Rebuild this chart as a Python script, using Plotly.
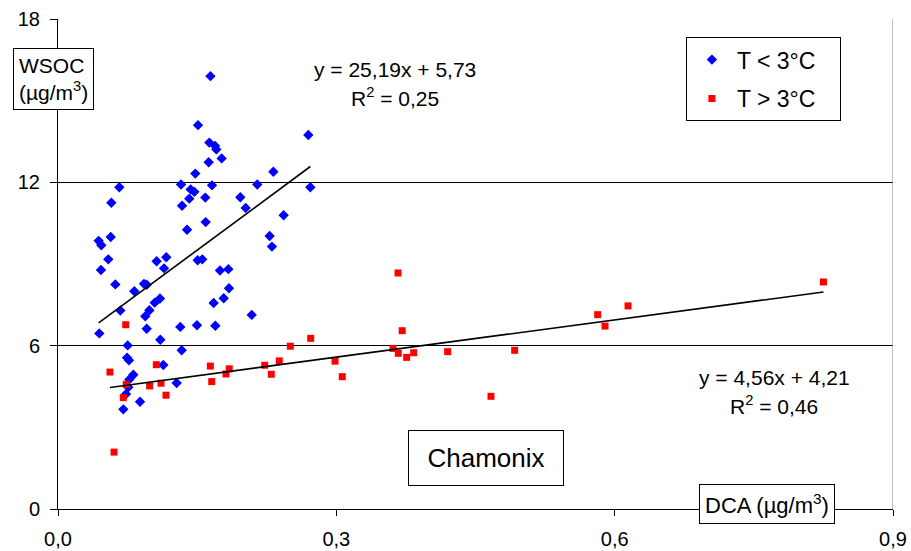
import numpy as np
import plotly.graph_objects as go

# DCA vs WSOC, T < 3°C (blue)
cold_dca = [0.1643, 0.1509, 0.2698, 0.1631, 0.1692, 0.1707, 0.1764, 0.1624, 0.2321, 0.148,
            0.0661, 0.1326, 0.166, 0.2148, 0.272, 0.143, 0.147, 0.1415, 0.1588, 0.1965,
            0.0575, 0.1337, 0.2023, 0.2432, 0.1592, 0.1391, 0.0568, 0.2281, 0.0438, 0.0467,
            0.2306, 0.0542, 0.0463, 0.1063, 0.1167, 0.1143, 0.1505, 0.1555, 0.1746, 0.1836,
            0.0618, 0.0927, 0.0956, 0.0823, 0.1843, 0.1099, 0.1042, 0.1786, 0.1678, 0.0672,
            0.0985, 0.0941, 0.2088, 0.0956, 0.1318, 0.1498, 0.1696, 0.0445, 0.1103, 0.0751,
            0.1333, 0.0744, 0.0765, 0.1135, 0.0812, 0.0769, 0.0758, 0.1279, 0.0733, 0.0884,
            0.0704]
cold_wsoc = [15.9, 14.1, 13.74, 13.46, 13.34, 13.21, 12.88, 12.74, 12.39, 12.32,
             11.82, 11.92, 11.89, 11.92, 11.82, 11.74, 11.65, 11.4, 11.44, 11.45,
             11.25, 11.14, 11.06, 10.79, 10.54, 10.26, 9.99, 10.03, 9.85, 9.69,
             9.64, 9.17, 8.78, 9.1, 9.25, 8.84, 9.14, 9.17, 8.76, 8.81,
             8.25, 8.27, 8.24, 8.0, 8.11, 7.73, 7.58, 7.74, 7.57, 7.29,
             7.3, 7.08, 7.13, 6.62, 6.69, 6.75, 6.73, 6.45, 6.22, 6.01,
             5.83, 5.56, 5.46, 5.29, 4.93, 4.76, 4.47, 4.63, 4.22, 3.94,
             3.66]

# T > 3°C (red)
warm_dca = [0.056, 0.0604, 0.0704, 0.073, 0.0736, 0.0988, 0.106, 0.111, 0.1164, 0.1642,
            0.1657, 0.1811, 0.1846, 0.2228, 0.2299, 0.2385, 0.2504, 0.2724, 0.2986, 0.3064,
            0.3611, 0.3665, 0.3668, 0.371, 0.3758, 0.3834, 0.42, 0.4667, 0.4922, 0.5817,
            0.5896, 0.6144, 0.825]
warm_wsoc = [5.03, 2.09, 4.09, 6.77, 4.58, 4.52, 5.3, 4.62, 4.18, 5.25,
             4.68, 4.96, 5.15, 5.28, 4.95, 5.44, 5.98, 6.27, 5.43, 4.86,
             5.9, 8.67, 5.72, 6.55, 5.57, 5.74, 5.78, 4.14, 5.83, 7.14,
             6.72, 7.46, 8.34]

# linear fits as printed on the chart
cold_fit = (25.19, 5.73)
warm_fit = (4.56, 4.21)

x_ticks = [0, 0.3, 0.6, 0.9]
x_labels = ["0,0", "0,3", "0,6", "0,9"]
y_ticks = [0, 6, 12, 18]

FONT = "Liberation Sans, Arial, sans-serif"
NB = "\u00a0"

fig = go.Figure()

fig.add_trace(go.Scatter(x=cold_dca, y=cold_wsoc, mode="markers", name="T < 3°C" + NB * 3,
                         legendgroup="a",
                         marker=dict(symbol="diamond", size=8, color="#0000ff")))
fig.add_trace(go.Scatter(x=warm_dca, y=warm_wsoc, mode="markers", name="T > 3°C" + NB * 3,
                         legendgroup="b",
                         marker=dict(symbol="square", size=7, color="#ff0000")))

for xs, (a, b) in [(cold_dca, cold_fit), (warm_dca, warm_fit)]:
    fx = np.array([min(xs), max(xs)])
    fig.add_trace(go.Scatter(x=fx, y=a * fx + b, mode="lines", showlegend=False,
                             line=dict(color="black", width=1.6)))

# gray right border
fig.add_shape(type="line", x0=0.9, x1=0.9, y0=0, y1=18, xref="x", yref="y",
              line=dict(color="#808080", width=1))

def note(text, x, y, size=21, **kw):
    fig.add_annotation(text=text, x=x, y=y, xref="paper", yref="paper", showarrow=False,
                       xanchor="center", yanchor="middle",
                       font=dict(size=size, color="black", family=FONT), **kw)

note("y = 25,19x + 5,73", 0.4036, 0.897)
note("R<sup>2</sup> = 0,25", 0.4036, 0.84)
note("y = 4,56x + 4,21", 0.8575, 0.269)
note("R<sup>2</sup> = 0,46", 0.8575, 0.212)

note("WSOC<br>(µg/m<sup>3</sup>)", -0.005, 0.878, size=21, align="left",
     bgcolor="white", bordercolor="black", borderwidth=1, borderpad=5)
note("DCA (µg/m<sup>3</sup>)", 0.8497, 0.0112, size=22,
     bgcolor="white", bordercolor="black", borderwidth=1, borderpad=5)
note("Chamonix", 0.5126, 0.104, size=26, width=136, height=36,
     bgcolor="white", bordercolor="black", borderwidth=1, borderpad=9)

fig.update_layout(
    width=911, height=551,
    margin=dict(l=58, r=18, t=19, b=42, autoexpand=False),
    paper_bgcolor="white", plot_bgcolor="white",
    font=dict(family=FONT, size=20, color="black"),
    showlegend=True,
    legend=dict(x=0.752, y=0.963, xanchor="left", yanchor="top",
                bgcolor="white", bordercolor="black", borderwidth=1,
                font=dict(size=23), tracegroupgap=6, itemwidth=40),
    xaxis=dict(range=[0, 0.9], tickvals=x_ticks, ticktext=x_labels, automargin=False,
               showgrid=False, zeroline=False, showline=True, linecolor="black",
               ticks="outside", ticklen=6, tickcolor="black", ticklabelstandoff=6),
    yaxis=dict(range=[0, 18], tickvals=y_ticks, showgrid=True, gridcolor="black",
               gridwidth=1, zeroline=False, showline=True, linecolor="black", automargin=False,
               ticks="outside", ticklen=7, tickcolor="black", ticklabelstandoff=6),
)

# drop the default body margin so the figure fills the window exactly
fig.write_html("out.html", config={"displayModeBar": False},
               post_script="document.body.style.margin='0';")
